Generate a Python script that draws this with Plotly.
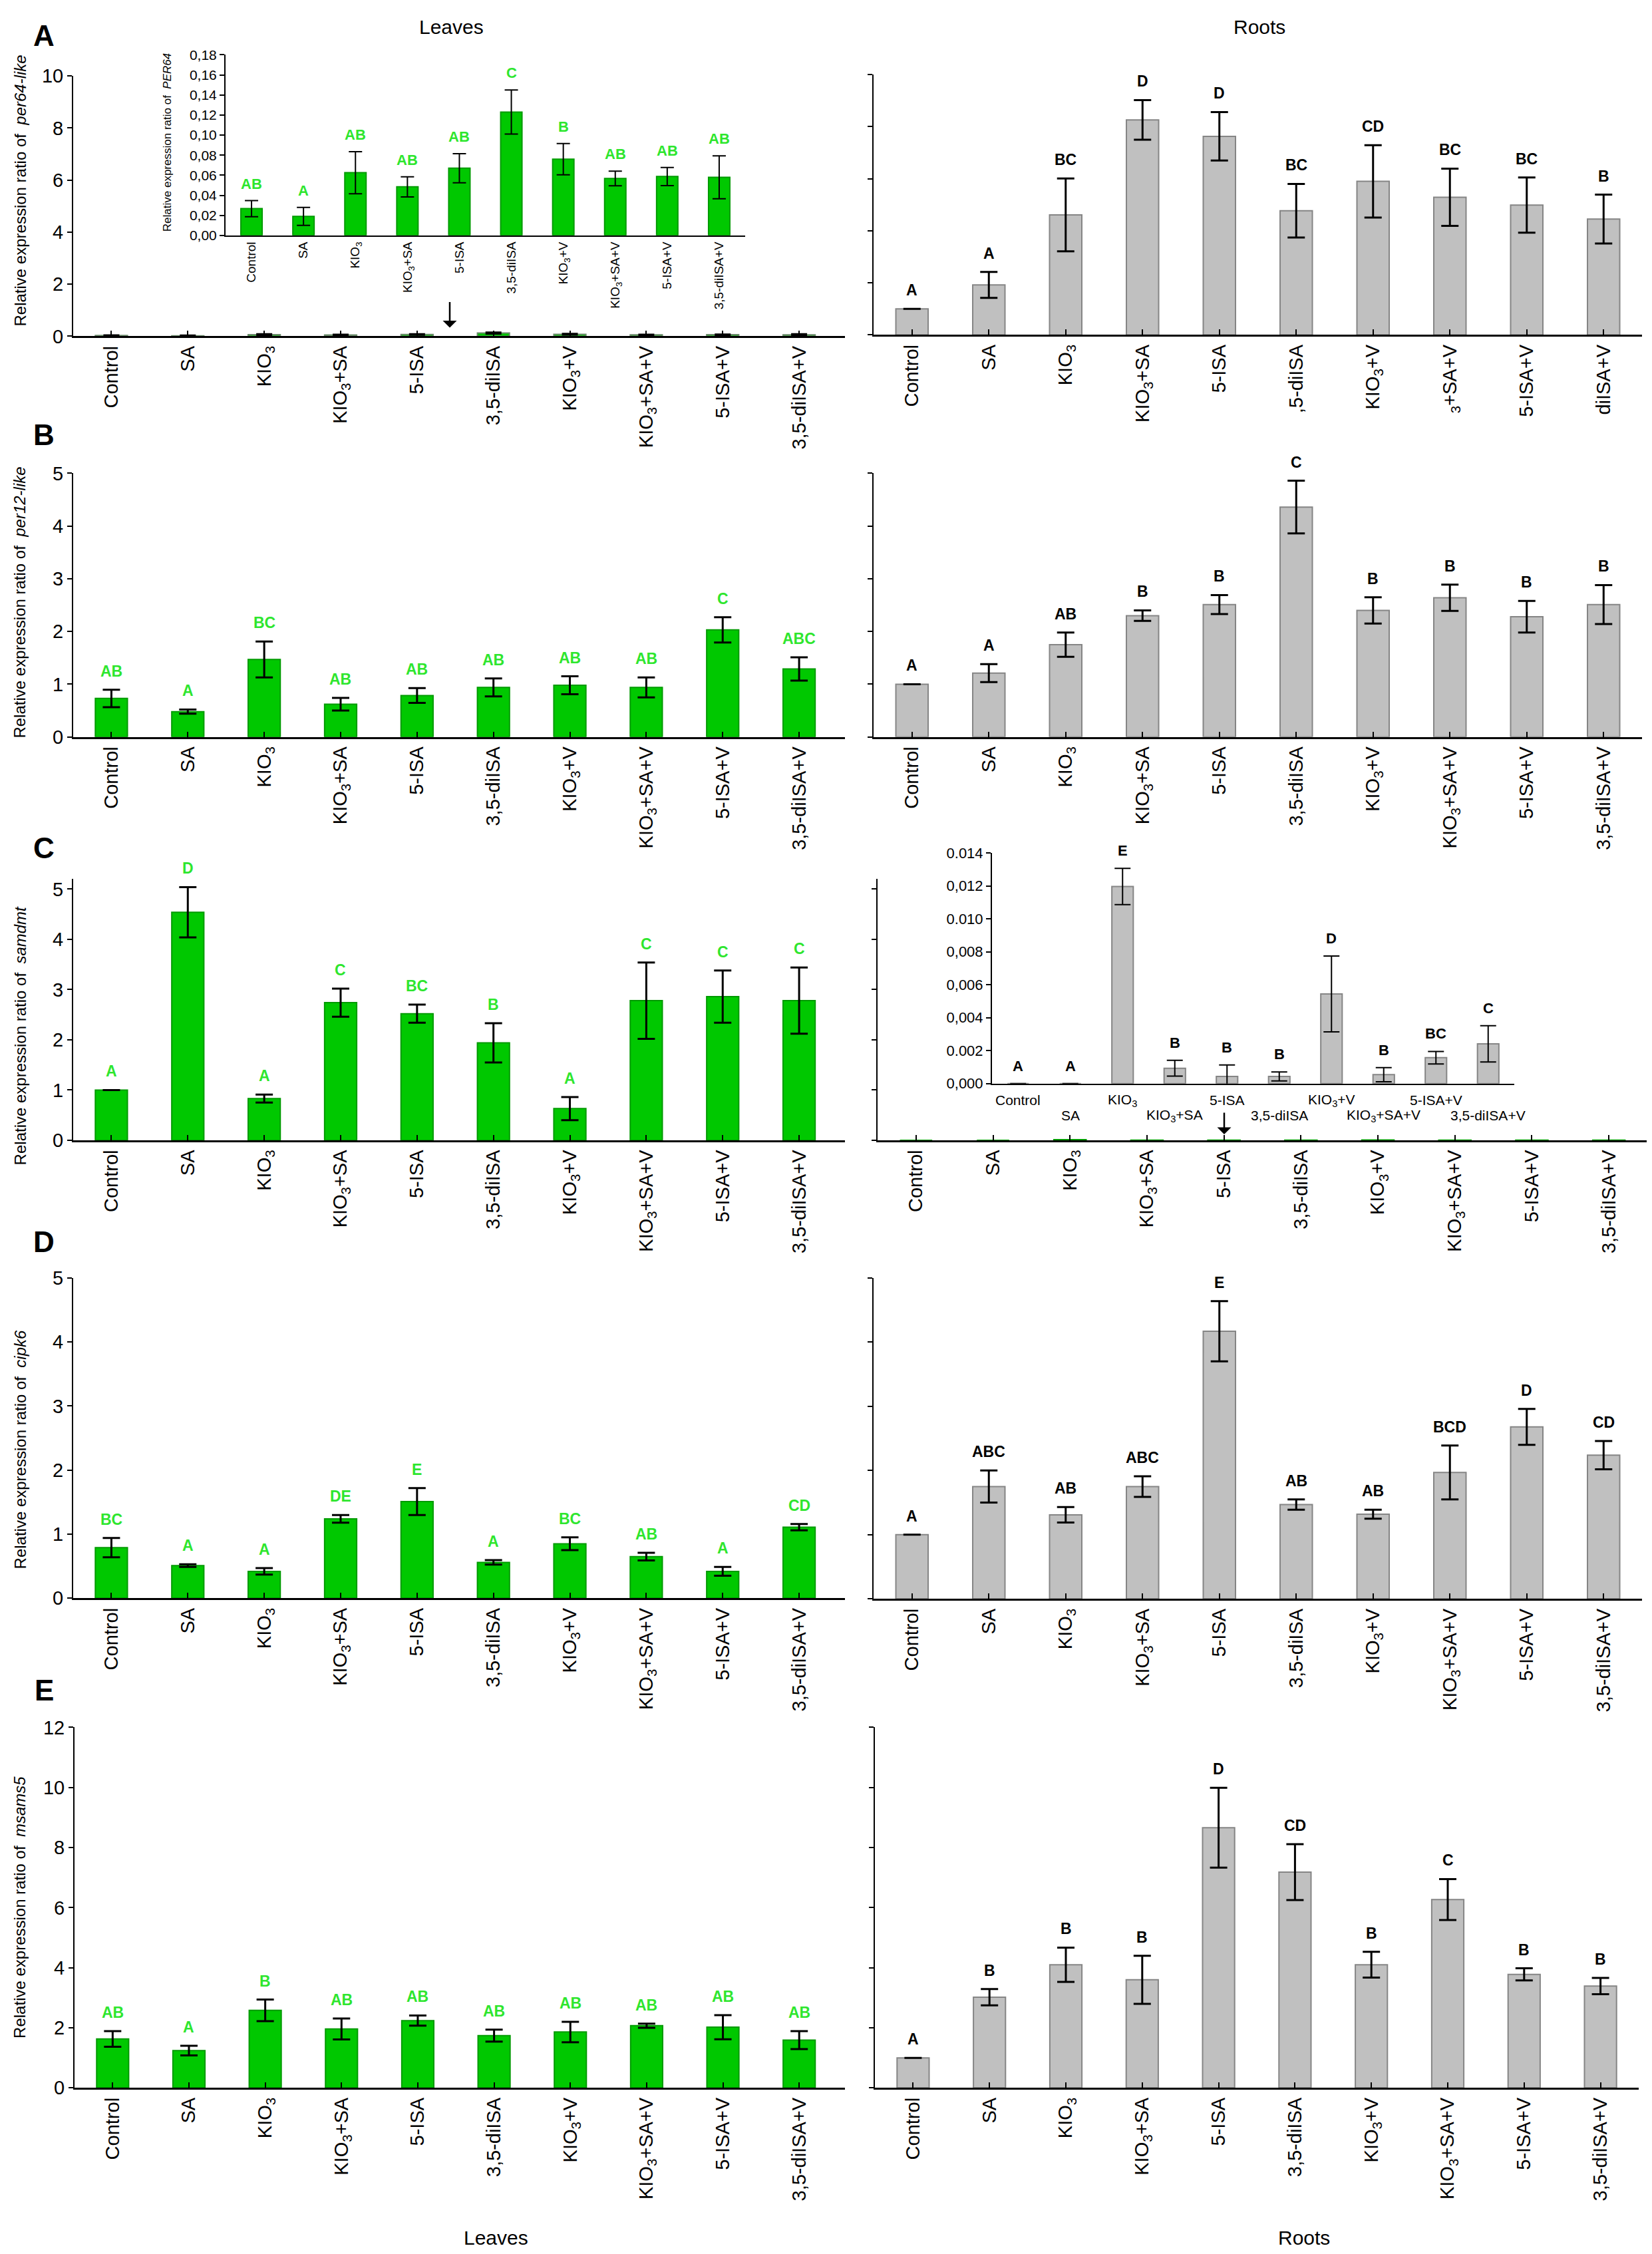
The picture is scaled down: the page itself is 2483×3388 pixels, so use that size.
import plotly.graph_objects as go

W, H = 2483, 3388

# ---------------- data ----------------
categories = ["Control", "SA", "KIO3", "KIO3+SA", "5-ISA", "3,5-diISA",
              "KIO3+V", "KIO3+SA+V", "5-ISA+V", "3,5-diISA+V"]
tick_labels = ["Control", "SA", "KIO<sub>3</sub>", "KIO<sub>3</sub>+SA", "5-ISA", "3,5-diISA",
               "KIO<sub>3</sub>+V", "KIO<sub>3</sub>+SA+V", "5-ISA+V", "3,5-diISA+V"]
# labels of the roots panel A as they appear (clipped) in the original
tick_labels_a_roots = ["Control", "SA", "KIO<sub>3</sub>", "KIO<sub>3</sub>+SA", "5-ISA", ",5-diISA",
                       "KIO<sub>3</sub>+V", "<sub>3</sub>+SA+V", "5-ISA+V", "diISA+V"]
inset_c_labels = ["Control", "SA", "KIO<sub>3</sub>", "KIO<sub>3</sub>+SA", "5-ISA", "3,5-diISA",
                  "KIO<sub>3</sub>+V", "KIO<sub>3</sub>+SA+V", "5-ISA+V", "3,5-diISA+V"]

# A: per64-like
a_leaves = [0.0267, 0.019, 0.0625, 0.0484, 0.067, 0.123, 0.076, 0.0567, 0.0587, 0.058]
a_leaves_err = [0.008, 0.009, 0.021, 0.010, 0.0145, 0.022, 0.0156, 0.0073, 0.009, 0.0214]
a_leaves_let = ["AB", "A", "AB", "AB", "AB", "C", "B", "AB", "AB", "AB"]
a_roots = [1.0, 1.92, 4.61, 8.26, 7.63, 4.77, 5.90, 5.29, 4.99, 4.45]
a_roots_err = [0.0, 0.50, 1.40, 0.76, 0.93, 1.03, 1.39, 1.10, 1.06, 0.94]
a_roots_let = ["A", "A", "BC", "D", "D", "BC", "CD", "BC", "BC", "B"]

# B: per12-like
b_leaves = [0.73, 0.48, 1.47, 0.62, 0.785, 0.94, 0.98, 0.94, 2.03, 1.29]
b_leaves_err = [0.165, 0.04, 0.34, 0.12, 0.14, 0.17, 0.17, 0.19, 0.24, 0.22]
b_leaves_let = ["AB", "A", "BC", "AB", "AB", "AB", "AB", "AB", "C", "ABC"]
b_roots = [1.0, 1.21, 1.75, 2.30, 2.51, 4.36, 2.40, 2.64, 2.28, 2.51]
b_roots_err = [0.0, 0.17, 0.23, 0.10, 0.18, 0.50, 0.25, 0.25, 0.30, 0.37]
b_roots_let = ["A", "A", "AB", "B", "B", "C", "B", "B", "B", "B"]

# C: samdmt
c_leaves = [1.0, 4.54, 0.83, 2.74, 2.52, 1.94, 0.63, 2.78, 2.86, 2.78]
c_leaves_err = [0.0, 0.50, 0.08, 0.28, 0.18, 0.39, 0.23, 0.76, 0.52, 0.66]
c_leaves_let = ["A", "D", "A", "C", "BC", "B", "A", "C", "C", "C"]
c_roots = [0.0, 0.0, 0.01196, 0.00093, 0.00043, 0.00043, 0.00544, 0.00054, 0.00157, 0.00241]
c_roots_err = [0.0, 0.0, 0.0011, 0.00048, 0.0007, 0.00027, 0.0023, 0.00043, 0.00038, 0.0011]
c_roots_let = ["A", "A", "E", "B", "B", "B", "D", "B", "BC", "C"]

# D: cipk6
d_leaves = [0.79, 0.51, 0.42, 1.24, 1.51, 0.56, 0.85, 0.65, 0.42, 1.11]
d_leaves_err = [0.15, 0.02, 0.05, 0.06, 0.21, 0.035, 0.10, 0.06, 0.07, 0.05]
d_leaves_let = ["BC", "A", "A", "DE", "E", "A", "BC", "AB", "A", "CD"]
d_roots = [1.0, 1.75, 1.31, 1.75, 4.17, 1.47, 1.32, 1.97, 2.68, 2.24]
d_roots_err = [0.0, 0.25, 0.12, 0.16, 0.47, 0.08, 0.07, 0.42, 0.28, 0.22]
d_roots_let = ["A", "ABC", "AB", "ABC", "E", "AB", "AB", "BCD", "D", "CD"]

# E: msams5
e_leaves = [1.63, 1.24, 2.58, 1.96, 2.24, 1.74, 1.86, 2.07, 2.02, 1.59]
e_leaves_err = [0.26, 0.16, 0.36, 0.35, 0.17, 0.20, 0.34, 0.07, 0.40, 0.30]
e_leaves_let = ["AB", "A", "B", "AB", "AB", "AB", "AB", "AB", "AB", "AB"]
e_roots = [1.0, 3.02, 4.10, 3.60, 8.66, 7.18, 4.10, 6.27, 3.78, 3.39]
e_roots_err = [0.0, 0.27, 0.57, 0.80, 1.33, 0.93, 0.43, 0.68, 0.20, 0.27]
e_roots_let = ["A", "B", "B", "B", "D", "CD", "B", "C", "B", "B"]

genes = ["per64-like", "per12-like", "samdmt", "cipk6", "msams5"]
panel_letters = ["A", "B", "C", "D", "E"]

# ---------------- styles ----------------
GREEN, GREEN_EDGE, GREEN_TXT = "#00c800", "#009a00", "#2ee62e"
GREY, GREY_EDGE = "#c0c0c0", "#858585"
NARROW = "Liberation Sans Narrow, Arial Narrow, Liberation Sans, Arial"
SANS = "Liberation Sans, Arial, sans-serif"

fig = go.Figure()
layout = {}
annotations = []


def dom_x(x0, x1):
    return [x0 / W, x1 / W]


def dom_y(ytop, ybot):
    return [1 - ybot / H, 1 - ytop / H]


def add_axes(n, px, py, xrange, yrange, dtick, show_ylabels=True, ticklabels=None,
             xfont=29, yfont=29, yticktext=None, xtickinside=True, show_xlabels=True):
    xa = "xaxis" if n == 1 else f"xaxis{n}"
    ya = "yaxis" if n == 1 else f"yaxis{n}"
    yref = "y" if n == 1 else f"y{n}"
    xref = "x" if n == 1 else f"x{n}"
    layout[xa] = dict(
        domain=dom_x(*px), anchor=yref, type="category", range=xrange,
        tickmode="array", tickvals=categories,
        ticktext=ticklabels if ticklabels is not None else tick_labels,
        showticklabels=show_xlabels,
        tickangle=-90, tickfont=dict(family=SANS, size=xfont, color="black"),
        showline=True, linecolor="black", linewidth=3,
        ticks="inside" if xtickinside else "", ticklen=8, tickwidth=2, tickcolor="black",
        showgrid=False, zeroline=False, fixedrange=True,
    )
    yd = dict(
        domain=dom_y(*py), anchor=xref, range=yrange,
        showline=True, linecolor="black", linewidth=2,
        ticks="outside", ticklen=7, tickwidth=2, tickcolor="black",
        showgrid=False, zeroline=False, showticklabels=show_ylabels,
        tickfont=dict(family=NARROW, size=yfont, color="black"),
    )
    if yticktext is not None:
        yd.update(tickmode="array", tickvals=yticktext[0], ticktext=yticktext[1])
    else:
        yd.update(tickmode="linear", tick0=0, dtick=dtick)
    layout[ya] = yd
    return xref, yref


def add_bars(xref, yref, vals, errs, color, edge, letters=None, lcolor="black",
             cap=13, thick=3, lsize=23, lshift=13, width=0.42, show_err=True):
    fig.add_trace(go.Bar(
        x=categories, y=vals, xaxis=xref, yaxis=yref, width=width,
        marker=dict(color=color, line=dict(color=edge, width=2)),
        error_y=dict(type="data", array=errs, visible=show_err, color="black",
                     thickness=thick, width=cap),
        showlegend=False, hoverinfo="skip",
    ))
    if letters:
        for c, v, e, t in zip(categories, vals, errs, letters):
            annotations.append(dict(
                x=c, y=v + e, xref=xref, yref=yref, text=f"<b>{t}</b>",
                showarrow=False, xanchor="center", yanchor="bottom", yshift=lshift,
                font=dict(family=NARROW, size=lsize, color=lcolor),
            ))


LEFT_X = (102, 1262)
RIGHT_X = (1305, 2460)
LR = [-0.5, 9.6]
RR = [-0.5, 9.5]

# ---- A ----
xr, yr = add_axes(1, LEFT_X, (91, 486), LR, [0, 10], 2)
add_bars(xr, yr, a_leaves, a_leaves_err, GREEN, "#6a8a6a", cap=12)
xr, yr = add_axes(2, RIGHT_X, (89, 484), RR, [0, 10], 2, show_ylabels=False,
                  ticklabels=tick_labels_a_roots)
add_bars(xr, yr, a_roots, a_roots_err, GREY, GREY_EDGE, a_roots_let)
# inset A
inset_a_ticks = ([0, 0.02, 0.04, 0.06, 0.08, 0.10, 0.12, 0.14, 0.16, 0.18],
                 ["0,00", "0,02", "0,04", "0,06", "0,08", "0,10", "0,12", "0,14", "0,16", "0,18"])
xr, yr = add_axes(3, (331, 1112), (59, 333), [-0.5, 9.5], [0, 0.18], None,
                  xfont=19, yfont=21, yticktext=inset_a_ticks, xtickinside=False)
layout["xaxis3"]["linewidth"] = 2
add_bars(xr, yr, a_leaves, a_leaves_err, GREEN, GREEN_EDGE, a_leaves_let, lcolor=GREEN_TXT,
         cap=10, thick=2, lsize=22, lshift=11, width=0.41)

# ---- B ----
xr, yr = add_axes(4, LEFT_X, (694, 1094), LR, [0, 5], 1)
add_bars(xr, yr, b_leaves, b_leaves_err, GREEN, GREEN_EDGE, b_leaves_let, lcolor=GREEN_TXT)
xr, yr = add_axes(5, RIGHT_X, (694, 1094), RR, [0, 5], 1, show_ylabels=False)
add_bars(xr, yr, b_roots, b_roots_err, GREY, GREY_EDGE, b_roots_let)

# ---- C ----
xr, yr = add_axes(6, LEFT_X, (1309, 1706), LR, [0, 5.21], 1)
add_bars(xr, yr, c_leaves, c_leaves_err, GREEN, GREEN_EDGE, c_leaves_let, lcolor=GREEN_TXT)
xr, yr = add_axes(7, (1311, 2468), (1309, 1706), RR, [0, 5.21], 1, show_ylabels=False)
add_bars(xr, yr, c_roots, c_roots_err, GREEN, GREEN_EDGE, show_err=False)
# inset C
inset_c_ticks = ([0, 0.002, 0.004, 0.006, 0.008, 0.010, 0.012, 0.014],
                 ["0,000", "0.002", "0,004", "0,006", "0,008", "0.010", "0,012", "0.014"])
xr, yr = add_axes(8, (1483, 2268), (1270, 1620), [-0.5, 9.5], [0, 0.014], None,
                  yfont=22, yticktext=inset_c_ticks, xtickinside=False, show_xlabels=False)
layout["xaxis8"]["linewidth"] = 2
add_bars(xr, yr, c_roots, c_roots_err, GREY, GREY_EDGE, c_roots_let,
         cap=12, thick=2, lsize=22, lshift=12, width=0.41)
for i, (c, lab) in enumerate(zip(categories, inset_c_labels)):
    annotations.append(dict(
        x=c, y=0, xref=xr, yref=yr, text=lab, showarrow=False,
        xanchor="center", yanchor="middle", yshift=-25 if i % 2 == 0 else -48,
        font=dict(family=NARROW, size=21, color="black"),
    ))

# ---- D ----
xr, yr = add_axes(9, LEFT_X, (1915, 2401), LR, [0, 5], 1)
add_bars(xr, yr, d_leaves, d_leaves_err, GREEN, GREEN_EDGE, d_leaves_let, lcolor=GREEN_TXT)
xr, yr = add_axes(10, RIGHT_X, (1915, 2402), RR, [0, 5], 1, show_ylabels=False)
add_bars(xr, yr, d_roots, d_roots_err, GREY, GREY_EDGE, d_roots_let)

# ---- E ----
xr, yr = add_axes(11, (104, 1262), (2597, 3144), LR, [0, 12], 2)
add_bars(xr, yr, e_leaves, e_leaves_err, GREEN, GREEN_EDGE, e_leaves_let, lcolor=GREEN_TXT)
xr, yr = add_axes(12, (1307, 2455), (2597, 3144), RR, [0, 12], 2, show_ylabels=False)
add_bars(xr, yr, e_roots, e_roots_err, GREY, GREY_EDGE, e_roots_let)

# ---------------- text ----------------
def paper(xpx, ypx):
    return xpx / W, 1 - ypx / H


def ptext(txt, xp, yp, font, angle=0):
    px, py = paper(xp, yp)
    annotations.append(dict(x=px, y=py, xref="paper", yref="paper", showarrow=False,
                            xanchor="center", yanchor="middle", text=txt,
                            textangle=angle, font=font))


title_centres = [265, 890, 1548, 2176, 2870]
letter_y = [30, 636, 1262, 1860, 2540]
for g, yc, pl, ly in zip(genes, title_centres, panel_letters, letter_y):
    ptext(f"Relative expression ratio of  <i>{g}</i>", 22, yc,
          dict(family=SANS, size=24, color="black"), angle=-90)
    ptext(f"<b>{pl}</b>", 58, ly, dict(family=SANS, size=44, color="black"))

# inset A y title
ptext("Relative expression ratio of  <i>PER64</i>", 243, 192,
      dict(family=SANS, size=17, color="black"), angle=-90)

for txt, xp, yp in [("Leaves", 670, 17), ("Roots", 1885, 17), ("Leaves", 737, 3371), ("Roots", 1952, 3371)]:
    ptext(txt, xp, yp, dict(family=NARROW, size=30, color="black"))

# arrows pointing from the insets to their main plots
for xp, y0, y1 in [(668, 433, 473), (1832, 1663, 1697)]:
    hx, hy = paper(xp, y1)
    annotations.append(dict(x=hx, y=hy, ax=0, ay=-(y1 - y0), xref="paper", yref="paper",
                            axref="pixel", ayref="pixel", showarrow=True, arrowhead=1,
                            arrowsize=1.4, arrowwidth=2.5, arrowcolor="black", text=""))

layout.update(
    width=W, height=H, margin=dict(l=0, r=0, t=0, b=0),
    paper_bgcolor="white", plot_bgcolor="rgba(0,0,0,0)",
    annotations=annotations, barmode="group", bargap=0.5,
    showlegend=False,
)
fig.update_layout(**layout)
fig.write_html("out.html")
